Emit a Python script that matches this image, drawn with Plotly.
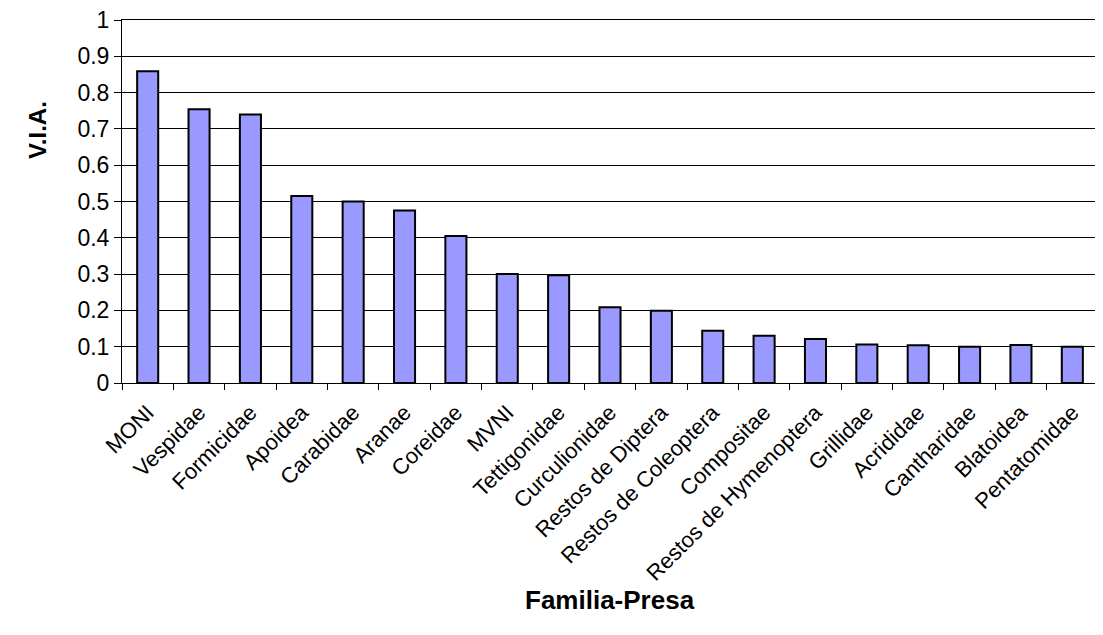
import plotly.graph_objects as go

categories = ["MONI", "Vespidae", "Formicidae", "Apoidea", "Carabidae", "Aranae",
              "Coreidae", "MVNI", "Tettigonidae", "Curculionidae", "Restos de Diptera",
              "Restos de Coleoptera", "Compositae", "Restos de Hymenoptera", "Grillidae",
              "Acrididae", "Cantharidae", "Blatoidea", "Pentatomidae"]
via_values = [0.859, 0.754, 0.740, 0.515, 0.500, 0.475, 0.405, 0.300, 0.297, 0.209,
              0.199, 0.144, 0.130, 0.121, 0.106, 0.104, 0.100, 0.105, 0.100]
y_ticks = [0, 0.1, 0.2, 0.3, 0.4, 0.5, 0.6, 0.7, 0.8, 0.9, 1]
y_tick_labels = ["0", "0.1", "0.2", "0.3", "0.4", "0.5", "0.6", "0.7", "0.8", "0.9", "1"]
x_title = "Familia-Presa"
y_title = "V.I.A."

fig = go.Figure(go.Bar(
    x=categories, y=via_values,
    marker=dict(color="#9999FF", line=dict(color="black", width=2)),
))

fig.update_layout(
    width=1095, height=627,
    margin=dict(l=114, r=5, t=12, b=252),
    paper_bgcolor="white", plot_bgcolor="white",
    font=dict(family="Liberation Sans, Arial, sans-serif", color="black"),
    bargap=0.59,
    showlegend=False,
    annotations=[
        dict(text="<b>" + y_title + "</b>", textangle=-90, font=dict(size=24),
             xref="paper", yref="paper", x=0, y=0.697, xshift=-84,
             xanchor="center", yanchor="middle", showarrow=False),
        dict(text="<b>" + x_title + "</b>", font=dict(size=26),
             xref="paper", yref="paper", x=0.5, y=0, yshift=-217,
             xanchor="center", yanchor="middle", showarrow=False),
    ],
)
fig.update_xaxes(
    tickangle=-45, tickfont=dict(size=22),
    showline=True, linecolor="black", linewidth=1, mirror=True,
    ticks="outside", ticklen=6, tickcolor="black", tickson="boundaries",
    ticklabelstandoff=7,
    automargin=False,
)
fig.update_yaxes(
    range=[0, 1], tickvals=y_ticks, ticktext=y_tick_labels,
    tickfont=dict(size=23), ticklabeloverflow="allow",
    showline=True, linecolor="black", linewidth=1,
    ticks="outside", ticklen=7, tickcolor="black",
    showgrid=True, gridcolor="black", gridwidth=1,
    zeroline=False, automargin=False,
)

fig.write_html("out.html")
